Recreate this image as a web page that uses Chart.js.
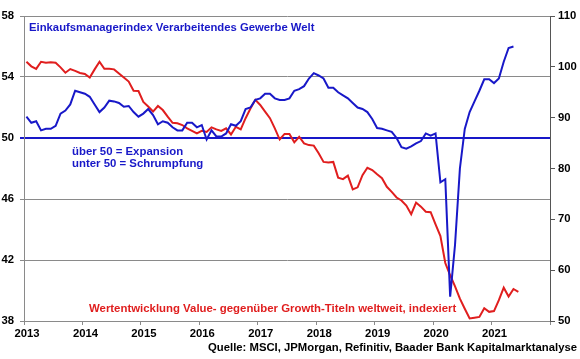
<!DOCTYPE html>
<html><head><meta charset="utf-8">
<script src="https://cdn.jsdelivr.net/npm/chart.js@4"></script>
<style>html,body{margin:0;padding:0;background:#fff;overflow:hidden;}canvas{display:block;}</style>
</head><body>
<canvas id="c" width="580" height="359"></canvas>
<script>
// ---- data ----
const firstMonth = '2013-01';
const yearTicks = [2013, 2014, 2015, 2016, 2017, 2018, 2019, 2020, 2021];
const leftTicks = [38, 42, 46, 50, 54, 58];
const rightTicks = [50, 60, 70, 80, 90, 100, 110];

// Global manufacturing PMI (left axis), monthly Jan 2013 - May 2021
const pmiValues = [
  51.4, 51.0, 51.1, 50.5, 50.6, 50.6, 50.8, 51.6, 51.8, 52.2, 53.1, 53.0,
  52.9, 52.7, 52.2, 51.7, 52.0, 52.45, 52.4, 52.3, 52.05, 52.1, 51.7, 51.4,
  51.6, 51.9, 51.5, 50.9, 51.1, 51.0, 50.7, 50.5, 50.5, 51.0, 51.0, 50.7,
  50.85, 49.9, 50.5, 50.1, 50.1, 50.3, 50.9, 50.8, 51.1, 51.9, 52.0, 52.5,
  52.6, 52.9, 52.9, 52.6, 52.5, 52.5, 52.6, 53.1, 53.2, 53.4, 53.9, 54.25,
  54.1, 53.9, 53.3, 53.3, 53.0, 52.8, 52.6, 52.3, 52.0, 51.9, 51.7, 51.25,
  50.65, 50.6, 50.5, 50.4, 50.0, 49.4, 49.3, 49.45, 49.65, 49.8, 50.3, 50.15,
  50.3, 47.1, 47.3, 39.6, 43.0, 48.0, 50.6, 51.7, 52.4, 53.1, 53.85, 53.85,
  53.6, 53.9, 55.0, 55.9, 56.0
];

// Value vs. Growth, indexed (right axis), monthly Jan 2013 - Jun 2021
const valueGrowthValues = [
  101.0, 100.1, 99.6, 101.0, 100.8, 100.9, 100.8, 99.9, 98.85, 99.57, 99.2, 98.8,
  98.6, 97.9, 99.5, 101.0, 99.6, 99.6, 99.5, 98.7, 97.9, 97.1, 95.3, 95.25,
  93.1, 92.2, 91.2, 92.3, 91.5, 90.2, 89.0, 88.9, 88.55, 87.9, 87.4, 86.9,
  87.4, 87.2, 88.1, 87.7, 87.4, 87.9, 86.7, 88.2, 87.7, 89.9, 91.8, 93.5,
  92.5, 91.2, 89.9, 87.9, 85.7, 86.8, 86.8, 85.15, 86.25, 84.95, 84.6, 84.5,
  83.0, 81.3, 81.2, 81.3, 78.2, 77.9, 78.6, 75.9, 76.3, 78.7, 80.15, 79.7,
  78.85, 78.1, 76.4, 75.4, 74.3, 73.7, 72.7, 71.0, 73.3, 72.5, 71.5, 71.4,
  69.0, 66.7, 61.4, 59.0, 56.8, 54.4, 52.4, 50.5, 50.65, 50.8, 52.5, 51.8,
  51.95, 54.1, 56.55, 54.8, 56.3, 55.75
];

const titleText = 'Einkaufsmanagerindex Verarbeitendes Gewerbe Welt';
const noteLines = ['über 50 = Expansion', 'unter 50 = Schrumpfung'];
const redLabel = 'Wertentwicklung Value- gegenüber Growth-Titeln weltweit, indexiert';
const sourceText = 'Quelle: MSCI, JPMorgan, Refinitiv, Baader Bank Kapitalmarktanalyse';

// ---- styling ----
const BLUE = '#1818c8';
const RED = '#e01e1e';
const GRID = '#8a8a8a';
const FONT = '"Liberation Sans", Arial, Helvetica, sans-serif';

// month categories -> decimal-year positions (mid-month)
function monthPositions(start, n) {
  const [y0, m0] = start.split('-').map(Number);
  const out = [];
  for (let i = 0; i < n; i++) {
    const mi = (m0 - 1) + i;
    out.push(y0 + (mi + 0.5) / 12);
  }
  return out;
}
const pmiX = monthPositions(firstMonth, pmiValues.length);
const vgX = monthPositions(firstMonth, valueGrowthValues.length);

const notes = [
  { text: titleText, color: BLUE, x: 29, y: 30.5, size: 11.3, align: 'left' },
  { text: noteLines[0], color: BLUE, x: 72, y: 154.5, size: 11.4, align: 'left' },
  { text: noteLines[1], color: BLUE, x: 72, y: 167, size: 11.4, align: 'left' },
  { text: redLabel, color: RED, x: 89, y: 312, size: 11.4, align: 'left' },
  { text: sourceText, color: '#000', x: 577, y: 350.5, size: 11.3, align: 'right' }
];

const textPlugin = {
  id: 'texts',
  afterDraw(chart) {
    const ctx = chart.ctx;
    ctx.save();
    ctx.textBaseline = 'alphabetic';
    notes.forEach(n => {
      ctx.font = `bold ${n.size}px ${FONT}`;
      ctx.fillStyle = n.color;
      ctx.textAlign = n.align;
      ctx.fillText(n.text, n.x, n.y);
    });
    ctx.restore();
  }
};

const tickFont = { family: FONT, size: 11.3, weight: 'bold' };

new Chart(document.getElementById('c'), {
  type: 'line',
  data: {
    datasets: [
      {
        label: 'PMI',
        data: pmiX.map((x, i) => ({ x, y: pmiValues[i] })),
        borderColor: BLUE, borderWidth: 2, pointRadius: 0, tension: 0,
        yAxisID: 'y', fill: false
      },
      {
        label: 'Value vs Growth',
        data: vgX.map((x, i) => ({ x, y: valueGrowthValues[i] })),
        borderColor: RED, borderWidth: 2, pointRadius: 0, tension: 0,
        yAxisID: 'y2', fill: false
      }
    ]
  },
  options: {
    responsive: false,
    animation: false,
    devicePixelRatio: 1,
    layout: { padding: { top: 16, left: 0, right: 0, bottom: 0 } },
    plugins: { legend: { display: false }, tooltip: { enabled: false } },
    scales: {
      x: {
        type: 'linear', min: 2013, max: 2022,
        afterBuildTicks: s => { s.ticks = yearTicks.concat([2022]).map(v => ({ value: v })); },
        ticks: {
          autoSkip: false, maxRotation: 0, color: '#000', font: tickFont, padding: 2, labelOffset: 3,
          callback: v => yearTicks.includes(v) ? String(v) : ''
        },
        grid: { drawOnChartArea: false, drawTicks: true, tickLength: 4, color: GRID },
        border: { color: GRID },
        afterFit: s => { s.height = 38; }
      },
      y: {
        position: 'left', min: 38, max: 58,
        afterBuildTicks: s => { s.ticks = leftTicks.map(v => ({ value: v })); },
        ticks: { color: '#000', font: tickFont, padding: 6 },
        grid: {
          color: c => (c.tick && c.tick.value === 50) ? BLUE : GRID,
          lineWidth: c => (c.tick && c.tick.value === 50) ? 2 : 1,
          tickLength: 4
        },
        border: { color: GRID },
        afterFit: s => { s.width = 24; }
      },
      y2: {
        position: 'right', min: 50, max: 110,
        afterBuildTicks: s => { s.ticks = rightTicks.map(v => ({ value: v })); },
        ticks: { color: '#000', font: tickFont, padding: 3 },
        grid: { drawOnChartArea: false, tickLength: 5, color: '#555' },
        border: { color: '#555' },
        afterFit: s => { s.width = 30; }
      }
    }
  },
  plugins: [textPlugin]
});
</script>
</body></html>
